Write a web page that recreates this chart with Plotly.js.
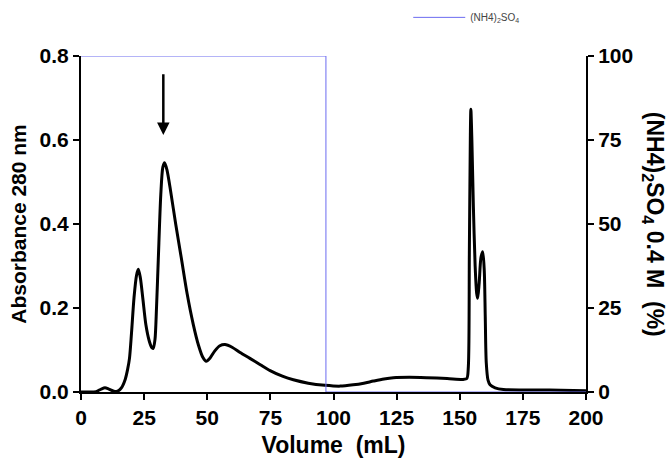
<!DOCTYPE html>
<html>
<head>
<meta charset="utf-8">
<script src="https://cdn.plot.ly/plotly-3.0.1.min.js"></script>
<style>html,body{margin:0;padding:0;background:#fff;}#chart{width:668px;height:458px;}</style>
</head>
<body>
<div id="chart"></div>
<script>
// Absorbance trace (Volume mL, A280)
const volume = [0,3,6,8,9.5,11,13,14.5,16,17.5,18.5,19.2,20.0,21.0,22.0,22.7,23.5,24.5,25.7,27.0,28.0,28.6,29.3,29.9,30.6,31.6,32.4,33.1,34.0,35.5,37.5,39.7,42.0,44.5,46.5,48.3,49.6,51,53,55,57,60,63,66.9,71,74.9,80,84.1,90,96.6,102.6,107.8,112,115.8,120,123.7,130,136.9,145,151.4,152.8,153.4,153.8,154.2,154.4,154.8,155.4,156.1,156.7,157.1,157.7,158.4,159.1,159.7,160.1,160.5,161.2,162,164,167.3,175,180.5,190,200];
const absorbance = [0,0,0.001,0.007,0.010,0.007,0.002,0.002,0.010,0.030,0.055,0.080,0.140,0.225,0.278,0.292,0.272,0.222,0.160,0.122,0.106,0.104,0.125,0.200,0.314,0.470,0.535,0.546,0.530,0.478,0.400,0.320,0.235,0.160,0.112,0.082,0.073,0.080,0.098,0.110,0.113,0.106,0.094,0.080,0.065,0.051,0.037,0.029,0.021,0.016,0.014,0.017,0.021,0.026,0.031,0.034,0.035,0.034,0.032,0.030,0.032,0.060,0.330,0.610,0.673,0.600,0.440,0.300,0.235,0.223,0.260,0.320,0.334,0.290,0.180,0.070,0.028,0.017,0.010,0.006,0.005,0.005,0.004,0.003];
// (NH4)2SO4 step gradient (%)
const saltVolume = [0,97,97,200];
const saltPercent = [100,100,0,0];
// Tick labels
const xTicks = [0,25,50,75,100,125,150,175,200];
const yTicks = [0,0.2,0.4,0.6,0.8];
const yTickText = ['0.0','0.2','0.4','0.6','0.8'];
const y2Ticks = [0,25,50,75,100];
// Arrow marking the fraction of interest
const arrowVolume = 32.6, arrowTop = 0.76, arrowTip = 0.612;

const fam = 'Liberation Sans, Arial, sans-serif';
const tickFont = {family:fam, size:21, color:'#000', weight:700};
const titleFont = {family:fam, size:23, color:'#000', weight:700};
const yTitleFont = {family:fam, size:21, color:'#000', weight:700};

const traces = [
  {x:volume, y:absorbance, type:'scatter', mode:'lines', line:{color:'#000', width:3, shape:'spline', smoothing:0.8}, showlegend:false, hoverinfo:'skip'},
  {x:saltVolume, y:saltPercent, type:'scatter', mode:'lines', yaxis:'y2', line:{color:'#6b6bf0', width:1}, name:'(NH4)<sub>2</sub>SO<sub>4</sub>', showlegend:true, hoverinfo:'skip'}
];

const layout = {
  width:668, height:458,
  margin:{l:81, r:82, t:56, b:66, autoexpand:false},
  paper_bgcolor:'#fff', plot_bgcolor:'#fff',
  showlegend:true,
  legend:{x:0.648, y:1.115, xanchor:'left', yanchor:'middle', itemwidth:52, bgcolor:'rgba(0,0,0,0)', font:{family:fam, size:10, color:'#444'}},
  xaxis:{range:[0,200], tickvals:xTicks, ticks:'outside', ticklen:6, tickwidth:2, tickcolor:'#000', showline:true, linewidth:2, linecolor:'#000', showgrid:false, zeroline:false, tickfont:tickFont,
    title:{text:'Volume  (mL)', font:titleFont, standoff:16}},
  yaxis:{range:[0,0.8], tickvals:yTicks, ticktext:yTickText, ticks:'outside', ticklen:6, tickwidth:2, tickcolor:'#000', showline:true, linewidth:2, linecolor:'#000', showgrid:false, zeroline:false, tickfont:tickFont,
    title:{text:'Absorbance 280 nm', font:yTitleFont, standoff:7}},
  yaxis2:{range:[0,100], overlaying:'y', side:'right', tickvals:y2Ticks, ticks:'outside', ticklen:6, tickwidth:2, tickcolor:'#000', showline:true, linewidth:2, linecolor:'#000', showgrid:false, zeroline:false, tickfont:tickFont},
  annotations:[
    {x:arrowVolume, y:arrowTip, xref:'x', yref:'y', ax:arrowVolume, ay:arrowTop, axref:'x', ayref:'y', text:'', showarrow:true, arrowhead:2, arrowsize:1, arrowwidth:2.5, arrowcolor:'#000'},
    {xref:'paper', yref:'paper', x:1.135, y:0.5, xanchor:'center', yanchor:'middle', textangle:90, showarrow:false, text:'(NH4)<sub>2</sub>SO<sub>4</sub> 0.4 M  (%)', font:titleFont}
  ]
};

Plotly.newPlot('chart', traces, layout, {displayModeBar:false, staticPlot:true});
</script>
</body>
</html>
